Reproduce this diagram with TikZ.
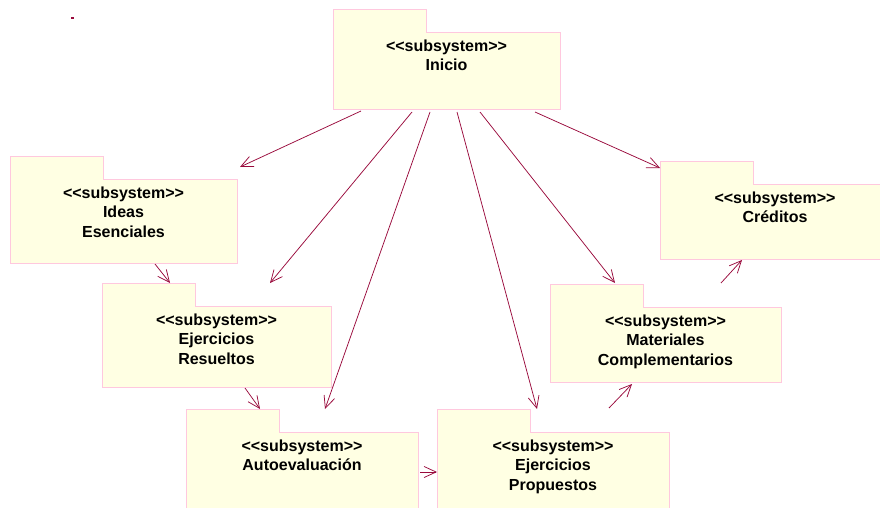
\documentclass[tikz,border=0pt]{standalone}
\usepackage{fontspec}
\newfontfamily\rosefont{Liberation Sans}
\usetikzlibrary{arrows.meta}

\definecolor{pkgfill}{RGB}{255,255,227}
\definecolor{pkgline}{RGB}{255,200,222}
\definecolor{deplink}{RGB}{153,10,60}

\tikzset{
    pkgbody/.style={draw=pkgline, fill=pkgfill, line width=0.9pt, inner sep=0pt, outer sep=0pt, anchor=north west},
    pkgtab/.style={fill=pkgfill, inner sep=0pt, outer sep=0pt, minimum width=93pt, minimum height=24pt, anchor=south west},
    pkgtext/.style={anchor=north, align=center, inner sep=0pt, font=\rosefont\bfseries\fontsize{16}{19.5}\selectfont},
    dep/.style={draw=deplink, line width=0.75pt, -{Straight Barb[length=12pt,width=11pt]}},
}

% name, x, y (top left of body), width, height, text
\newcommand\package[6]{
    \node[pkgbody, minimum width=#4pt, minimum height=#5pt] (#1) at (#2,#3) {};
    \node[pkgtab] (#1tab) at ([shift={(0,1)}]#1.north west) {};
    \draw[pkgline, line width=0.9pt] (#1tab.south west) |- (#1tab.north east) -- (#1tab.south east);
    \node[pkgtext] (#1text) at ([shift={(0,7.5)}]#1.north) {#6};
}

\begin{document}
\begin{tikzpicture}[x=1pt, y=-1pt]
    \useasboundingbox (0,0) rectangle (880,508);
    \clip (0,0) rectangle (880,508);

    \package{inicio}{333}{32}{227}{77}{<<subsystem>>\\Inicio}
    \package{ideas}{10}{179}{227}{84}{<<subsystem>>\\Ideas\\Esenciales}
    \package{resueltos}{102}{306}{229}{81}{<<subsystem>>\\Ejercicios\\Resueltos}
    \package{autoeval}{186}{432}{232}{90}{<<subsystem>>\\Autoevaluación}
    \package{propuestos}{437}{432}{232}{90}{<<subsystem>>\\Ejercicios\\Propuestos}
    \package{materiales}{550}{307}{231}{75}{<<subsystem>>\\Materiales\\Complementarios}
    \package{creditos}{660}{184}{230}{75}{<<subsystem>>\\Créditos}

    % stray mark
    \fill[deplink] (71,17) rectangle (73.5,19.5);

    % inicio to all
    \draw[dep] ([shift={(28,2)}]inicio.south west) -- ([shift={(3,-12)}]ideas.north east);
    \draw[dep] ([shift={(79,3)}]inicio.south west) -- ([shift={(53.5,-23)}]resueltos.north);
    \draw[dep] ([shift={(97,3)}]inicio.south west) -- ([shift={(23,-23)}]autoeval.north);
    \draw[dep] ([shift={(124,3)}]inicio.south west) -- ([shift={(-16,-23)}]propuestos.north);
    \draw[dep] ([shift={(147,3)}]inicio.south west) -- ([shift={(-50.5,-24)}]materiales.north);
    \draw[dep] ([shift={(202,3)}]inicio.south west) -- ([shift={(0,-16)}]creditos.north west);

    % chain on the left
    \draw[dep] ([shift={(145,1)}]ideas.south west) -- ([shift={(68,-23)}]resueltos.north west);
    \draw[dep] ([shift={(143,1)}]resueltos.south west) -- ([shift={(74,-23)}]autoeval.north west);
    \draw[dep] ([shift={(2,40)}]autoeval.north east) -- ([shift={(0,40)}]propuestos.north west);

    % chain on the right
    \draw[dep] ([shift={(56,-24)}]propuestos.north) -- ([shift={(82,2)}]materiales.south west);
    \draw[dep] ([shift={(55.5,-24)}]materiales.north) -- ([shift={(82,1)}]creditos.south west);
\end{tikzpicture}
\end{document}
